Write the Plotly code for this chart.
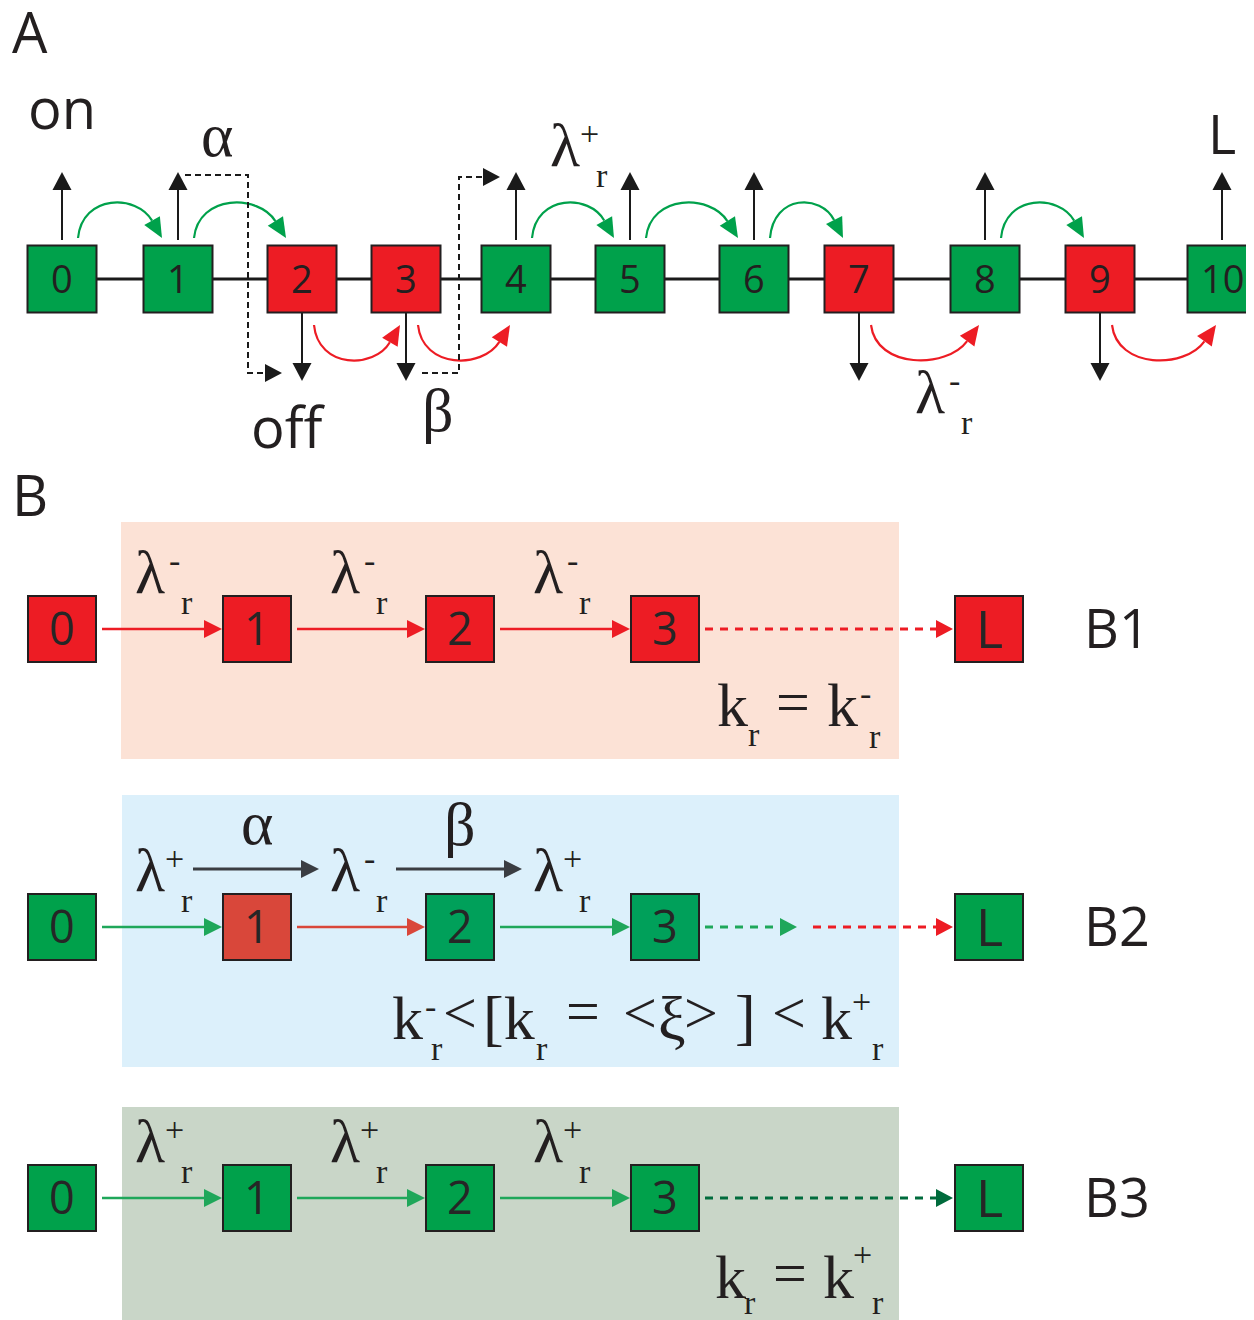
import math
import plotly.graph_objects as go

# ---- content -------------------------------------------------------------
# panel A: chain of states, "on" = green, "off" = red
A_STATES = ["0", "1", "2", "3", "4", "5", "6", "7", "8", "9", "10"]
A_KIND = ["on", "on", "off", "off", "on", "on", "on", "off", "on", "off", "on"]

# panel B: three limiting cases
B_STATES = ["0", "1", "2", "3", "L"]
B1_KIND = ["off", "off", "off", "off", "off"]
B2_KIND = ["on", "off", "on", "on", "on"]
B3_KIND = ["on", "on", "on", "on", "on"]
B1_RATES = ["-", "-", "-"]
B2_RATES = ["+", "-", "+"]
B3_RATES = ["+", "+", "+"]
B2_SWITCHES = ["α", "β"]
B_NAMES = ["B1", "B2", "B3"]

# ---- layout (pixel space of the page, y grows downward) -----------------
W, H = 1254, 1320
PAGE_PAD = 8  # default body margin of the html page
A_X = [62, 178, 302, 406, 516, 630, 754, 859, 985, 1100, 1222]
A_Y = 279
A_BOX_W, A_BOX_H = 69, 67
B_X = [62, 257, 460, 665, 989]
B_Y = [629, 927, 1198]
B_BOX_W, B_BOX_H = 68, 66
B_BG = [(121, 899, 522, 759), (122, 899, 795, 1067), (122, 899, 1107, 1320)]
B_BG_COL = ["#FCE2D6", "#DCF0FB", "#C9D6C8"]

GREEN = "#00A14B"
RED = "#ED1C24"
INK = "#231F20"
SANS = "Open Sans, Roboto, sans-serif"
SERIF = "Liberation Serif, DejaVu Serif, serif"

# vertical correction (fraction of font size) so the ink centre sits on y
SHIFT = {"c": 0.03, "x": 0.12, "a": 0.0}
SERIF_SHIFT = {"c": 0.0, "x": 0.11, "m": 0.09, "d": 0.10}

shapes, notes = [], []


def seg(x0, y0, x1, y1, color, width=2, dash=None):
    shapes.append(dict(type="line", xref="x", yref="y", x0=x0, y0=y0, x1=x1, y1=y1,
                       line=dict(color=color, width=width, dash=dash)))


def head(tx, ty, dx, dy, color, length=18, width=18):
    n = math.hypot(dx, dy)
    ux, uy = dx / n, dy / n
    bx, by = tx - ux * length, ty - uy * length
    px, py = -uy * width / 2, ux * width / 2
    shapes.append(dict(type="path", xref="x", yref="y",
                       path=f"M{tx},{ty} L{bx + px},{by + py} L{bx - px},{by - py} Z",
                       fillcolor=color, line=dict(width=0)))
    return bx, by


def arrow(x0, y0, x1, y1, color, width=2, dash=None, length=18, hw=18):
    bx, by = head(x1, y1, x1 - x0, y1 - y0, color, length, hw)
    seg(x0, y0, bx, by, color, width, dash)


def poly_arrow(pts, color, dash, length=17, hw=18):
    (xa, ya), (xb, yb) = pts[-2], pts[-1]
    bx, by = head(xb, yb, xb - xa, yb - ya, color, length, hw)
    path = "M" + " L".join(f"{x},{y}" for x, y in pts[:-1]) + f" L{bx},{by}"
    shapes.append(dict(type="path", xref="x", yref="y", path=path,
                       line=dict(color=color, width=2, dash=dash)))


def arc(xs, xe, y, bulge, color):
    w = xe - xs
    c = y + bulge * 8 / 6
    p1 = (xs + 0.05 * w, c)
    p2 = (xe - 0.3 * w, c)
    bx, by = head(xe, y, xe - p2[0], y - p2[1], color, 20, 18)
    shapes.append(dict(type="path", xref="x", yref="y",
                       path=f"M{xs},{y} C{p1[0]},{p1[1]} {p2[0]},{p2[1]} {bx},{by}",
                       line=dict(color=color, width=2.2)))


def box(cx, cy, w, h, fill):
    shapes.append(dict(type="rect", xref="x", yref="y", x0=cx - w / 2, x1=cx + w / 2,
                       y0=cy - h / 2, y1=cy + h / 2, fillcolor=fill,
                       line=dict(color=INK, width=2)))


def txt(x, y, s, size, kind="c", family=SANS, color=INK):
    shift = (SERIF_SHIFT if family == SERIF else SHIFT)[kind]
    notes.append(dict(x=x, y=y - shift * size, text=s, showarrow=False, xref="x", yref="y",
                      xanchor="center", yanchor="middle",
                      font=dict(family=family, size=size, color=color)))


def rate(x, y, base, sup, size=62):
    txt(x, y, base, size, "c", SERIF)
    txt(x + 24, y - 8, sup, 34, "m", SERIF)
    txt(x + 37, y + 34, "r", 34, "x", SERIF)


# ---- panel A ---------------------------------------------------------------
txt(30, 33, "A", 56)
seg(A_X[0], A_Y, W + 5, A_Y, "#1A1A1A", 3)

for i in range(len(A_STATES) - 1):
    if A_KIND[i] == "on":
        arc(A_X[i] + 16, A_X[i + 1] - 16, 238, -33, GREEN)
    else:
        arc(A_X[i] + 12, A_X[i + 1] - 6, 325, 33, RED)

for x, kind in zip(A_X, A_KIND):
    if kind == "on":
        arrow(x, A_Y - 39, x, 172, "#1A1A1A", 2, length=18, hw=19)
    else:
        arrow(x, A_Y + 34, x, 381, "#1A1A1A", 2, length=18, hw=19)

# switching paths alpha (on -> off) and beta (off -> on)
vx_a = (A_X[1] + A_X[2]) / 2 + 8
poly_arrow([(A_X[1] + 7, 175), (vx_a, 175), (vx_a, 373), (A_X[2] - 20, 373)], "#1A1A1A", "6px,4px")
vx_b = (A_X[3] + A_X[4]) / 2 - 2
poly_arrow([(A_X[3] + 16, 373), (vx_b, 373), (vx_b, 177), (A_X[4] - 16, 177)], "#1A1A1A", "6px,4px")

for x, s, kind in zip(A_X, A_STATES, A_KIND):
    box(x, A_Y, A_BOX_W, A_BOX_H, GREEN if kind == "on" else RED)
    txt(x, A_Y, s, 38)

txt(62, 114, "on", 56, "x")
txt(288, 426, "off", 56, "a")
txt(1222, 135, "L", 54)
txt(217, 142, "α", 62, "x", SERIF)
txt(438, 416, "β", 62, "d", SERIF)
rate(565, 145, "λ", "+")
rate(930, 392, "λ", "-")

# ---- panel B ---------------------------------------------------------------
txt(30, 496, "B", 56)

for (x0, x1, y0, y1), col in zip(B_BG, B_BG_COL):
    shapes.append(dict(type="rect", xref="x", yref="y", x0=x0, x1=x1, y0=y0, y1=y1,
                       fillcolor=col, line=dict(width=0), layer="below"))

rows = [(B1_KIND, B1_RATES), (B2_KIND, B2_RATES), (B3_KIND, B3_RATES)]
for r, (kinds, rates) in enumerate(rows):
    y = B_Y[r]
    fills = [GREEN if k == "on" else RED for k in kinds]
    edge_cols = [GREEN if k == "on" else RED for k in kinds]
    if r == 1:
        fills = [GREEN, "#D9473A", "#00A05A", "#00A05A", GREEN]
        edge_cols = ["#1FA75A", "#D9473A", "#1FA75A", "#1FA75A"]
    if r == 2:
        edge_cols = ["#1FA75A"] * 4
    for i in range(3):
        arrow(B_X[i] + 40, y, B_X[i + 1] - 35, y, edge_cols[i], 2.5, length=18, hw=18)
        rate(B_X[i] + 88, y - 57, "λ", rates[i])
    if r == 0:
        arrow(B_X[3] + 40, y, B_X[4] - 36, y, RED, 3, "8px,7px", 17, 18)
    elif r == 1:
        arrow(B_X[3] + 40, y, 797, y, "#1FA75A", 3, "8px,7px", 17, 18)
        arrow(813, y, B_X[4] - 36, y, RED, 3, "8px,7px", 17, 18)
    else:
        arrow(B_X[3] + 40, y, B_X[4] - 36, y, "#006B3C", 3, "8px,7px", 17, 18)
    for x, s, f in zip(B_X, B_STATES, fills):
        box(x, y, B_BOX_W, B_BOX_H, f)
        txt(x, y, s, 52 if s == "L" else 45, color="#262626")
    txt(1117, y, B_NAMES[r], 54)

# switching arrows of case B2
for j, sym in enumerate(B2_SWITCHES):
    cx = B_X[j + 1]
    arrow(cx - 64, B_Y[1] - 58, cx + 62, B_Y[1] - 58, "#3A3D42", 3, length=18, hw=18)
    txt(cx, B_Y[1] - 97, sym, 62, "x" if sym == "α" else "d", SERIF)

# rate formulas
txt(732, 705, "k", 62, "c", SERIF)
txt(754, 738, "r", 34, "x", SERIF)
txt(793, 707, "=", 60, "m", SERIF)
txt(842, 705, "k", 62, "c", SERIF)
txt(865, 697, "-", 34, "m", SERIF)
txt(875, 740, "r", 34, "x", SERIF)

txt(407, 1018, "k", 62, "c", SERIF)
txt(430, 1010, "-", 34, "m", SERIF)
txt(437, 1052, "r", 34, "x", SERIF)
txt(460, 1018, "&lt;", 60, "m", SERIF)
txt(509, 1018, "[k", 62, "c", SERIF)
txt(542, 1052, "r", 34, "x", SERIF)
txt(583, 1016, "=", 60, "m", SERIF)
txt(640, 1018, "&lt;", 60, "m", SERIF)
txt(672, 1024, "ξ", 62, "d", SERIF)
txt(701, 1018, "&gt;", 60, "m", SERIF)
txt(745, 1023, "]", 62, "m", SERIF)
txt(789, 1018, "&lt;", 60, "m", SERIF)
txt(836, 1018, "k", 62, "c", SERIF)
txt(861, 1005, "+", 34, "m", SERIF)
txt(878, 1052, "r", 34, "x", SERIF)

txt(730, 1277, "k", 62, "c", SERIF)
txt(750, 1306, "r", 34, "x", SERIF)
txt(790, 1278, "=", 60, "m", SERIF)
txt(838, 1277, "k", 62, "c", SERIF)
txt(862, 1258, "+", 34, "m", SERIF)
txt(878, 1306, "r", 34, "x", SERIF)

# the page puts the plot 8px from its top-left corner, so the axes start there
fig = go.Figure()
fig.update_layout(width=W - PAGE_PAD, height=H - PAGE_PAD, margin=dict(l=0, r=0, t=0, b=0),
                  paper_bgcolor="white", plot_bgcolor="white",
                  shapes=shapes, annotations=notes, showlegend=False,
                  xaxis=dict(range=[PAGE_PAD, W], visible=False, fixedrange=True),
                  yaxis=dict(range=[H, PAGE_PAD], visible=False, fixedrange=True))
fig.write_html("out.html")
